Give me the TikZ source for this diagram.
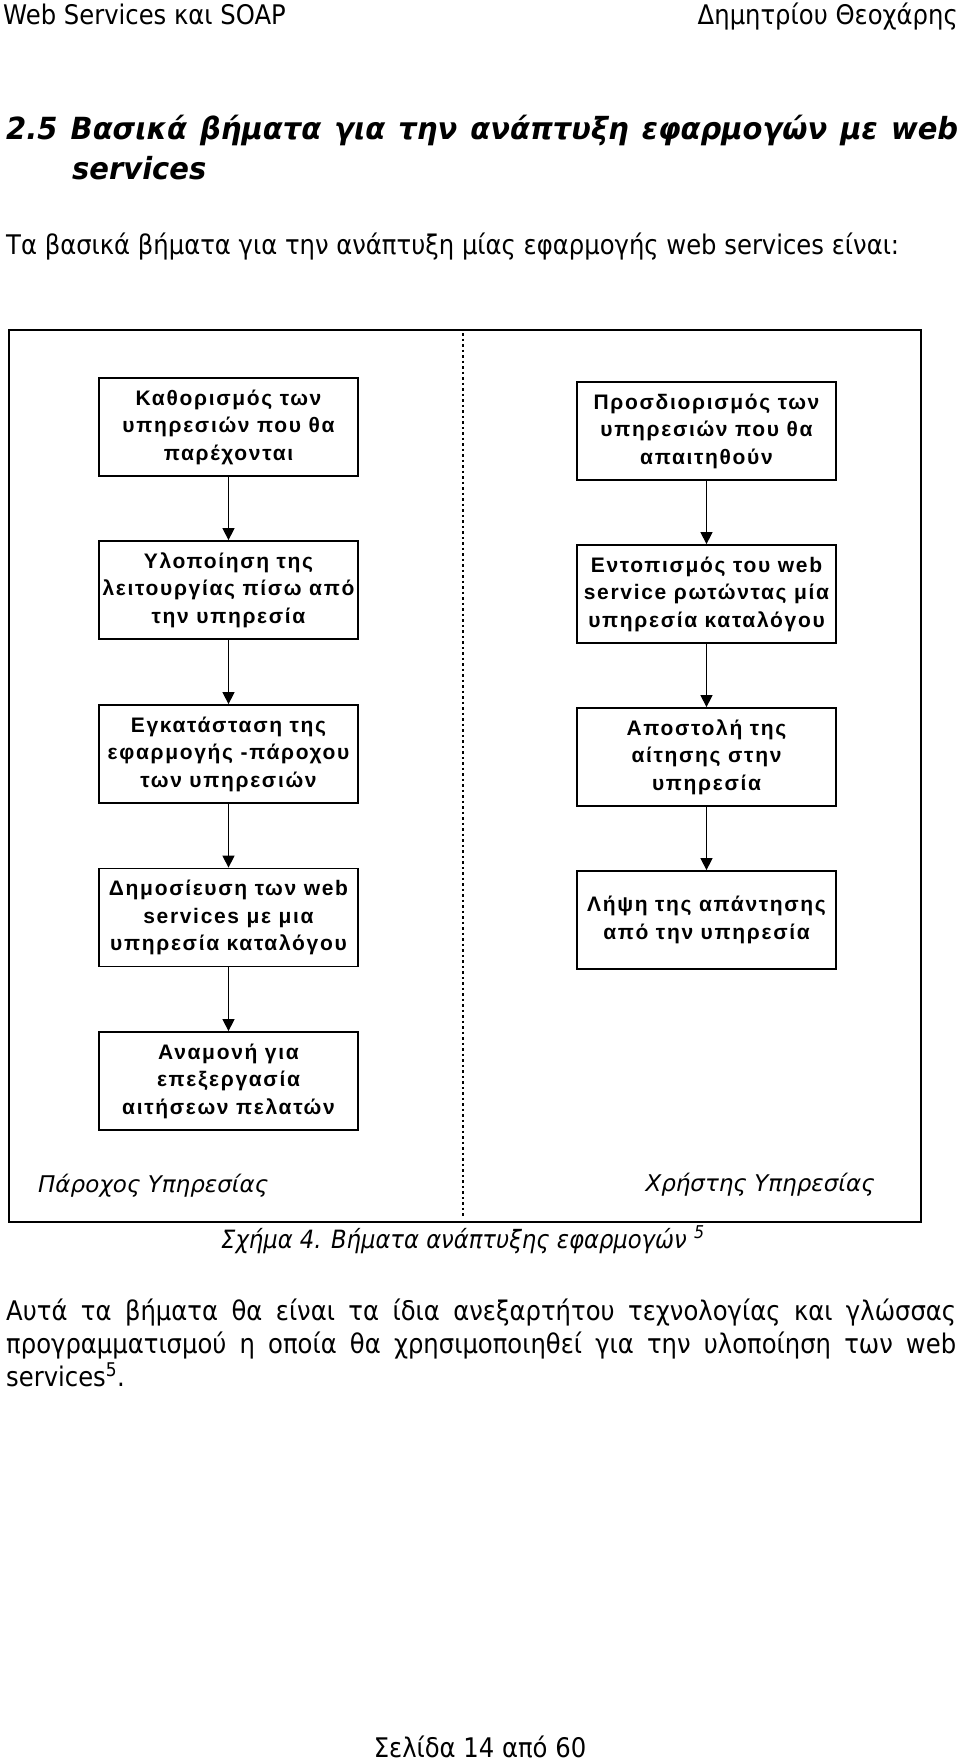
\documentclass[tikz,border=0pt]{standalone}
\usepackage{fontspec}
\setmainfont{DejaVu Sans}[FakeStretch=0.9]
\newfontfamily\headfont{DejaVu Sans}[FakeStretch=0.95]
\newfontfamily\rolefont{DejaVu Sans}
\newfontfamily\boxfont{Liberation Sans}[LetterSpace=8]
\usetikzlibrary{arrows.meta}
\begin{document}
\begin{tikzpicture}[x=1pt,y=-1pt,
  stepbox/.style={draw,line width=1.8pt,minimum width=259pt,minimum height=98pt,inner sep=0pt,align=center,font=\boxfont\bfseries\fontsize{21}{27.5}\selectfont},
  flow/.style={line width=1.4pt,-{Triangle[width=12pt,length=12pt]}},
  txt/.style={inner sep=0pt,font=\fontsize{27}{33}\selectfont},
  role/.style={inner sep=0pt,font=\rolefont\itshape\fontsize{23}{26}\selectfont},
  headtxt/.style={inner sep=0pt,anchor=base west,font=\headfont\bfseries\itshape\fontsize{30.5}{36}\selectfont}]
\useasboundingbox (0,0) rectangle (960,1761);
\fill[white] (0,0) rectangle (960,1761);
% header
\node[txt,anchor=base west] (hl) at (3,25) {Web Services και SOAP};
\node[txt,anchor=base east] (hr) at (958,25) {Δημητρίου Θεοχάρης};
% heading
\node[headtxt] (h1) at (6,139) {\makebox[952pt][s]{2.5 Βασικά βήματα για την ανάπτυξη εφαρμογών με web}};
\node[headtxt] (h2) at (72,179) {services};
\node[txt,anchor=base west] (intro) at (6,254) {Τα βασικά βήματα για την ανάπτυξη μίας εφαρμογής web services είναι:};
% frame and divider
\draw[line width=2pt] (9,330) rectangle (921,1222);
\draw[line width=2.5pt,dash pattern=on 2.5pt off 3pt,black] (463,333) -- (463,1218);
% left column
\node[stepbox] (L1) at (228.5,427) {Καθορισμός των\\υπηρεσιών που θα\\παρέχονται};
\node[stepbox] (L2) at (228.5,590) {Υλοποίηση της\\λειτουργίας πίσω από\\την υπηρεσία};
\node[stepbox] (L3) at (228.5,754) {Εγκατάσταση της\\εφαρμογής -πάροχου\\των υπηρεσιών};
\node[stepbox] (L4) at (228.5,917.5) {Δημοσίευση των web\\services με μια\\υπηρεσία καταλόγου};
\node[stepbox] (L5) at (228.5,1081) {Αναμονή για\\επεξεργασία\\αιτήσεων πελατών};
% right column
\node[stepbox] (R1) at (706.5,431) {Προσδιορισμός των\\υπηρεσιών που θα\\απαιτηθούν};
\node[stepbox] (R2) at (706.5,594) {Εντοπισμός του web\\service ρωτώντας μία\\υπηρεσία καταλόγου};
\node[stepbox] (R3) at (706.5,757) {Αποστολή της\\αίτησης στην\\υπηρεσία};
\node[stepbox] (R4) at (706.5,920) {Λήψη της απάντησης\\από την υπηρεσία};
% arrows
\draw[flow] (L1.south) -- (L2.north);
\draw[flow] (L2.south) -- (L3.north);
\draw[flow] (L3.south) -- (L4.north);
\draw[flow] (L4.south) -- (L5.north);
\draw[flow] (R1.south) -- (R2.north);
\draw[flow] (R2.south) -- (R3.north);
\draw[flow] (R3.south) -- (R4.north);
% roles
\node[role,anchor=base west] (prov) at (38,1192) {Πάροχος Υπηρεσίας};
\node[role,anchor=base east] (user) at (875,1191) {Χρήστης Υπηρεσίας};
% caption
\node[inner sep=0pt,anchor=base west,font=\itshape\fontsize{25.2}{33}\selectfont] (cap) at (221,1248) {Σχήμα 4. Βήματα ανάπτυξης εφαρμογών \textsuperscript{5}};
% paragraph
\node[txt,anchor=base west] (p1) at (6,1320) {\makebox[950pt][s]{Αυτά τα βήματα θα είναι τα ίδια ανεξαρτήτου τεχνολογίας και γλώσσας}};
\node[txt,anchor=base west] (p2) at (6,1353) {\makebox[950pt][s]{προγραμματισμού η οποία θα χρησιμοποιηθεί για την υλοποίηση των web}};
\node[txt,anchor=base west] (p3) at (6,1386) {services\textsuperscript{5}.};
% footer
\node[txt,anchor=base] (foot) at (480,1757) {Σελίδα 14 από 60};
\end{tikzpicture}
\end{document}
